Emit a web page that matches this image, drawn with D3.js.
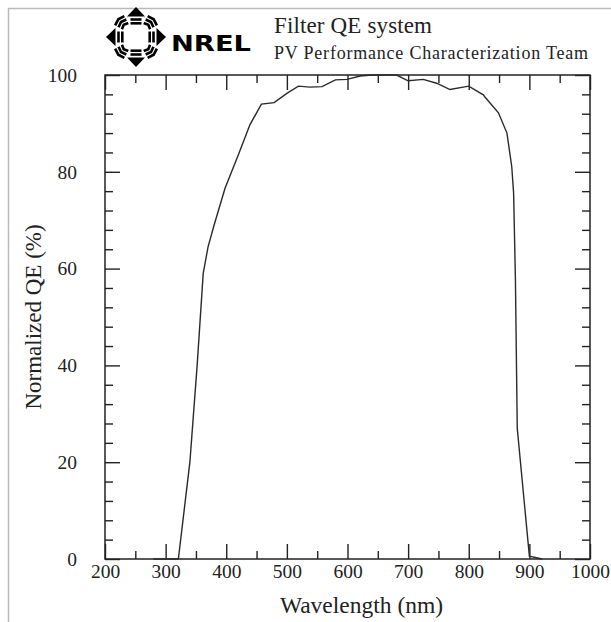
<!DOCTYPE html>
<html>
<head>
<meta charset="utf-8">
<script src="https://cdn.jsdelivr.net/npm/d3@7"></script>
<style>
  body { margin: 0; background: #fff; }
  svg { display: block; }
  .tick text { font-family: "Liberation Serif", "Times New Roman", serif; font-size: 19.5px; fill: #222; }
</style>
</head>
<body>
<script>
// wavelength (nm) and normalized QE (%)
const wavelength = [280, 300, 321, 340, 352, 362, 370, 380, 398, 420, 439, 458, 479, 500, 519, 538, 558, 580, 599, 621, 640, 654, 681, 700, 725, 747, 769, 800, 824, 827, 849, 863, 871, 874, 877, 880, 900, 921];
const qe = [0, 0, 0, 20, 40, 59, 64.5, 69, 76.6, 83.5, 89.7, 94, 94.3, 96.2, 97.7, 97.5, 97.6, 99, 99.1, 99.8, 100, 100, 100, 98.8, 99.1, 98.3, 97, 97.7, 95.9, 95.4, 92.2, 88, 81, 75.6, 57.6, 27, 0.6, 0];
const xTicks = [200, 300, 400, 500, 600, 700, 800, 900, 1000];
const yTicks = [0, 20, 40, 60, 80, 100];
const title = "Filter QE system";
const subtitle = "PV Performance Characterization Team";

const W = 611, H = 622;
const margin = {top: 75, left: 105, right: 21, bottom: 63},
    width = W - margin.left - margin.right,
    height = H - margin.top - margin.bottom;
const ink = "#222";

const svg = d3.select("body").append("svg")
    .attr("width", W)
    .attr("height", H);

// page border lines
svg.append("line").attr("x1", 8).attr("x2", W).attr("y1", 8.5).attr("y2", 8.5)
    .attr("stroke", "#bbb").attr("stroke-width", 1.5);
svg.append("line").attr("x1", 8.5).attr("x2", 8.5).attr("y1", 8).attr("y2", H)
    .attr("stroke", "#bbb").attr("stroke-width", 1.5);

// header text
svg.append("text").attr("x", 274).attr("y", 33)
    .style("font-family", "'Liberation Serif', serif").style("font-size", "23px").attr("fill", ink)
    .attr("textLength", 158).attr("lengthAdjust", "spacing")
    .text(title);
svg.append("text").attr("x", 274).attr("y", 59)
    .style("font-family", "'Liberation Serif', serif").style("font-size", "18px").attr("fill", ink)
    .attr("textLength", 314).attr("lengthAdjust", "spacing")
    .text(subtitle);

// NREL logo
const logo = svg.append("g").attr("transform", "translate(136,37)");
d3.range(8).forEach(function(k) {
    const a = logo.append("g").attr("transform", "rotate(" + (k * 45) + ")");
    if (k % 2 === 0) {
        // arrow pointing outward (up in local coords)
        a.append("path").attr("d", "M0,-30 L-9,-20.5 L9,-20.5 Z").attr("fill", "#000");
        a.append("rect").attr("x", -5.5).attr("y", -18.8).attr("width", 11).attr("height", 2.6).attr("fill", "#000");
        a.append("rect").attr("x", -5.5).attr("y", -15).attr("width", 11).attr("height", 2.6).attr("fill", "#000");
    } else {
        // three stripes, bent into a chevron
        [[-25, 6.5], [-21.2, 5.5], [-17.4, 4.5]].forEach(function(s) {
            a.append("path")
                .attr("d", "M" + (-s[1]) + "," + (s[0] + 2) + " L0," + s[0] + " L" + s[1] + "," + (s[0] + 2))
                .attr("fill", "none").attr("stroke", "#000").attr("stroke-width", 2.6);
        });
    }
});
svg.append("text").attr("x", 171).attr("y", 51)
    .style("font-family", "'DejaVu Sans', sans-serif").style("font-size", "22px").style("font-weight", "900")
    .attr("textLength", 80).attr("lengthAdjust", "spacingAndGlyphs")
    .attr("fill", "#000").text("NREL");

const g = svg.append("g")
    .attr("transform", "translate(" + margin.left + "," + margin.top + ")");

const x = d3.scaleLinear().domain([200, 1000]).range([0, width]);
const y = d3.scaleLinear().domain([0, 100]).range([height, 0]);

const xMinor = d3.range(250, 1000, 100);
const yMinor = d3.range(4, 100, 4).filter(d => d % 20 !== 0);

function styleAxis(sel) {
    sel.select(".domain").remove();
    sel.selectAll("line").attr("stroke", ink).attr("stroke-width", 1.4);
}

// bottom axis with labels
g.append("g").attr("transform", "translate(0," + height + ")")
    .call(d3.axisBottom(x).tickValues(xTicks).tickSize(-15).tickPadding(5).tickFormat(d3.format("d")))
    .call(styleAxis);
g.append("g").attr("transform", "translate(0," + height + ")")
    .call(d3.axisBottom(x).tickValues(xMinor).tickSize(-8).tickFormat(""))
    .call(styleAxis);
// top axis
g.append("g")
    .call(d3.axisTop(x).tickValues(xTicks).tickSize(-15).tickFormat(""))
    .call(styleAxis);
g.append("g")
    .call(d3.axisTop(x).tickValues(xMinor).tickSize(-8).tickFormat(""))
    .call(styleAxis);
// left axis with labels
g.append("g")
    .call(d3.axisLeft(y).tickValues(yTicks).tickSize(-15).tickPadding(28))
    .call(styleAxis);
g.append("g")
    .call(d3.axisLeft(y).tickValues(yMinor).tickSize(-8).tickFormat(""))
    .call(styleAxis);
// right axis
g.append("g").attr("transform", "translate(" + width + ",0)")
    .call(d3.axisRight(y).tickValues(yTicks).tickSize(-15).tickFormat(""))
    .call(styleAxis);
g.append("g").attr("transform", "translate(" + width + ",0)")
    .call(d3.axisRight(y).tickValues(yMinor).tickSize(-8).tickFormat(""))
    .call(styleAxis);

// frame
g.append("rect").attr("width", width).attr("height", height)
    .attr("fill", "none").attr("stroke", ink).attr("stroke-width", 1.5);

// QE curve
const line = d3.line()
    .x((d, i) => x(wavelength[i]))
    .y(d => y(d));
g.append("path")
    .datum(qe)
    .attr("fill", "none")
    .attr("stroke", "#2a2a2a")
    .attr("stroke-width", 1.4)
    .attr("d", line);

// axis titles
g.append("text")
    .attr("x", width / 2 + 14).attr("y", height + 54)
    .attr("text-anchor", "middle")
    .style("font-family", "'Liberation Serif', serif").style("font-size", "23.5px").attr("fill", ink)
    .text("Wavelength (nm)");
g.append("text")
    .attr("transform", "translate(-64," + (height / 2) + ") rotate(-90)")
    .attr("text-anchor", "middle")
    .style("font-family", "'Liberation Serif', serif").style("font-size", "23px").attr("fill", ink)
    .text("Normalized QE (%)");
</script>
</body>
</html>
